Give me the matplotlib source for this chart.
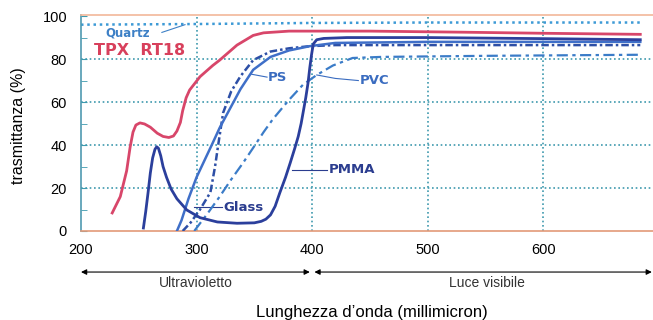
import numpy as np
import matplotlib
matplotlib.use("Agg")
import matplotlib.pyplot as plt

plt.rcParams['font.family'] = ['Liberation Sans', 'DejaVu Sans']

# --- data ------------------------------------------------------------------
tpx_x = [227, 234, 239.5, 242.5, 245, 247.5, 251, 255, 260, 266, 271, 276,
         280, 283, 286, 288, 291, 294, 303, 314, 320, 335, 349, 358, 380, 450,
         530, 600, 684]
tpx_y = [8.4, 16, 28, 39, 46, 49.3, 50.3, 49.8, 48.3, 45.5, 44, 43.5,
         44.2, 46.5, 50.5, 56, 62, 65.6, 71.8, 77, 79.5, 86.5, 91, 92.2, 93, 93,
         92.5, 92, 91.5]

pmma_x = [254, 256, 258, 260, 262, 264, 265.5, 267, 269, 271, 274, 278, 283,
          291.5, 303, 318, 335, 350, 356, 360, 364, 368, 372, 377, 381, 385,
          388, 390.5, 392.5, 394.5, 396.5, 398, 399.5, 401, 404, 410, 430, 500,
          600, 684]
pmma_y = [1.4, 9, 17.7, 27, 34, 38, 39.2, 38.5, 35, 30, 25, 19.5, 15,
          9.8, 6.2, 4.2, 3.6, 3.8, 4.5, 5.5, 7.5, 11.5, 17.7, 25, 31.6, 38.5,
          44, 50, 56, 62, 69, 76, 82, 87, 89, 89.6, 90, 90,
          89.5, 89]

ps_x = [283, 287, 293, 300, 307, 314, 320, 326, 338, 349, 364, 380, 398, 420,
        500, 600, 684]
ps_y = [0, 5, 15, 25, 33, 41, 48, 54, 66, 75, 81, 84, 86, 87.5, 88, 88, 88]

glass_x = [288, 295, 303, 312, 316, 319, 323, 330, 338, 349, 364, 380, 398,
           420, 500, 600, 684]
glass_y = [0, 4, 10, 18, 30, 41, 55, 65, 72, 79.5, 83.5, 85, 86, 86.5, 86.5,
           86.5, 86.5]

pvc_x = [298, 310, 320, 330, 340, 350, 358, 366, 380, 392, 404, 418, 435, 460,
         550, 684]
pvc_y = [0, 8.5, 16, 24, 31.5, 39.5, 46, 52, 61, 68, 72.6, 77, 80.5, 81,
         81.5, 82]

quartz_x = [200, 300, 400, 500, 600, 684]
quartz_y = [96, 96.3, 96.8, 97, 97, 97]

x_ticks = [200, 300, 400, 500, 600]
y_ticks = [0, 20, 40, 60, 80, 100]

# --- figure -----------------------------------------------------------------
fig = plt.figure(figsize=(6.53, 3.2), dpi=100)
ax = fig.add_axes([81 / 653, 1 - 231 / 320, 1 - 81 / 653, 216 / 320])
ax.set_xlim(200, 695)
ax.set_ylim(0, 100.5)

grid_c = '#3e9aae'
for gy in [20, 40, 60, 80]:
    ax.axhline(gy, color=grid_c, lw=1.2, ls=(0, (1, 1.6)), zorder=1)
for gx in [300, 400, 500, 600]:
    ax.axvline(gx, color=grid_c, lw=1.2, ls=(0, (1, 1.6)), zorder=1)

ax.plot(quartz_x, quartz_y, color='#3d9ad6', lw=1.8, ls=(0, (1, 1.5)), zorder=2)
ax.plot(pvc_x, pvc_y, color='#3b7cc8', lw=1.6, ls=(0, (5, 2, 1.5, 2)), zorder=3)
ax.plot(glass_x, glass_y, color='#2d4fa6', lw=1.8, ls=(0, (3, 1.2, 1, 1.2)), zorder=3)
ax.plot(ps_x, ps_y, color='#3f6fc8', lw=1.8, zorder=4)
ax.plot(pmma_x, pmma_y, color='#2b3f9c', lw=2.0, zorder=4,
        solid_joinstyle='round')
ax.plot(tpx_x, tpx_y, color='#d8466a', lw=2.0, zorder=5,
        solid_joinstyle='round')

# curve labels with leader lines
lab = dict(fontsize=9.5, fontweight='bold', family='DejaVu Sans', va='center')
ax.text(221, 92.2, 'Quartz', color='#3d80c6', fontsize=8.5, fontweight='bold',
        family='DejaVu Sans', va='center')
ax.plot([270, 290], [92.4, 96], color='#3d80c6', lw=0.8)
ax.text(211, 84, 'TPX  RT18', color='#d8405c', fontsize=11.5, fontweight='bold',
        family='DejaVu Sans', va='center')
ax.text(362, 71.6, 'PS', color='#3a6cc0', **lab)
ax.plot([347, 361], [73, 71.6], color='#3a6cc0', lw=0.8)
ax.text(441, 70, 'PVC', color='#3a6cc0', **lab)
ax.plot([404, 420, 440], [72.6, 71, 70], color='#3a6cc0', lw=0.8)
ax.text(414, 28.4, 'PMMA', color='#2b3d8f', **lab)
ax.plot([383, 413], [28.4, 28.4], color='#2b3d8f', lw=0.8)
ax.text(323, 11, 'Glass', color='#2b3d8f', **lab)
ax.plot([298, 322], [11, 11], color='#2b3d8f', lw=0.8)

# axes styling
ax.spines['right'].set_visible(False)
ax.spines['top'].set_color('#f2b89a')
ax.spines['bottom'].set_color('#e39a78')
ax.spines['left'].set_color('#4f9ab0')
for s in ['top', 'bottom', 'left']:
    ax.spines[s].set_linewidth(1.2)

ax.set_xticks(x_ticks)
ax.set_yticks(y_ticks)
ax.set_yticks(range(10, 100, 20), minor=True)
ax.tick_params(axis='x', length=0, pad=9, labelsize=10.5)
ax.tick_params(axis='y', which='both', direction='in', length=4,
               color=grid_c, pad=10, labelsize=10.5)

# range arrows under the axis
narrow = ['Liberation Sans Narrow', 'Liberation Sans']
tr = ax.get_xaxis_transform()
arrow = dict(arrowstyle='<|-|>', color='black', lw=0.8, mutation_scale=8,
             shrinkA=0, shrinkB=0)
ax.annotate('', xy=(200, -0.19), xytext=(398, -0.19), xycoords=tr,
            textcoords=tr, arrowprops=arrow, annotation_clip=False)
ax.annotate('', xy=(402, -0.19), xytext=(694, -0.19), xycoords=tr,
            textcoords=tr, arrowprops=arrow, annotation_clip=False)
ax.text(299, -0.24, 'Ultravioletto', transform=tr, ha='center', va='center',
        fontsize=10, color='#333333', family=narrow)
ax.text(551, -0.24, 'Luce visibile', transform=tr, ha='center', va='center',
        fontsize=10, color='#333333', family=narrow)

fig.text(372 / 653, 1 - 312 / 320, 'Lunghezza d\u2019onda (millimicron)',
         ha='center', va='center', fontsize=12, family=narrow)
fig.text(19 / 653, 1 - 126 / 320, 'trasmittanza (%)', rotation=90,
         ha='center', va='center', fontsize=11.5, family=narrow)

fig.savefig('out.png', dpi=100)
